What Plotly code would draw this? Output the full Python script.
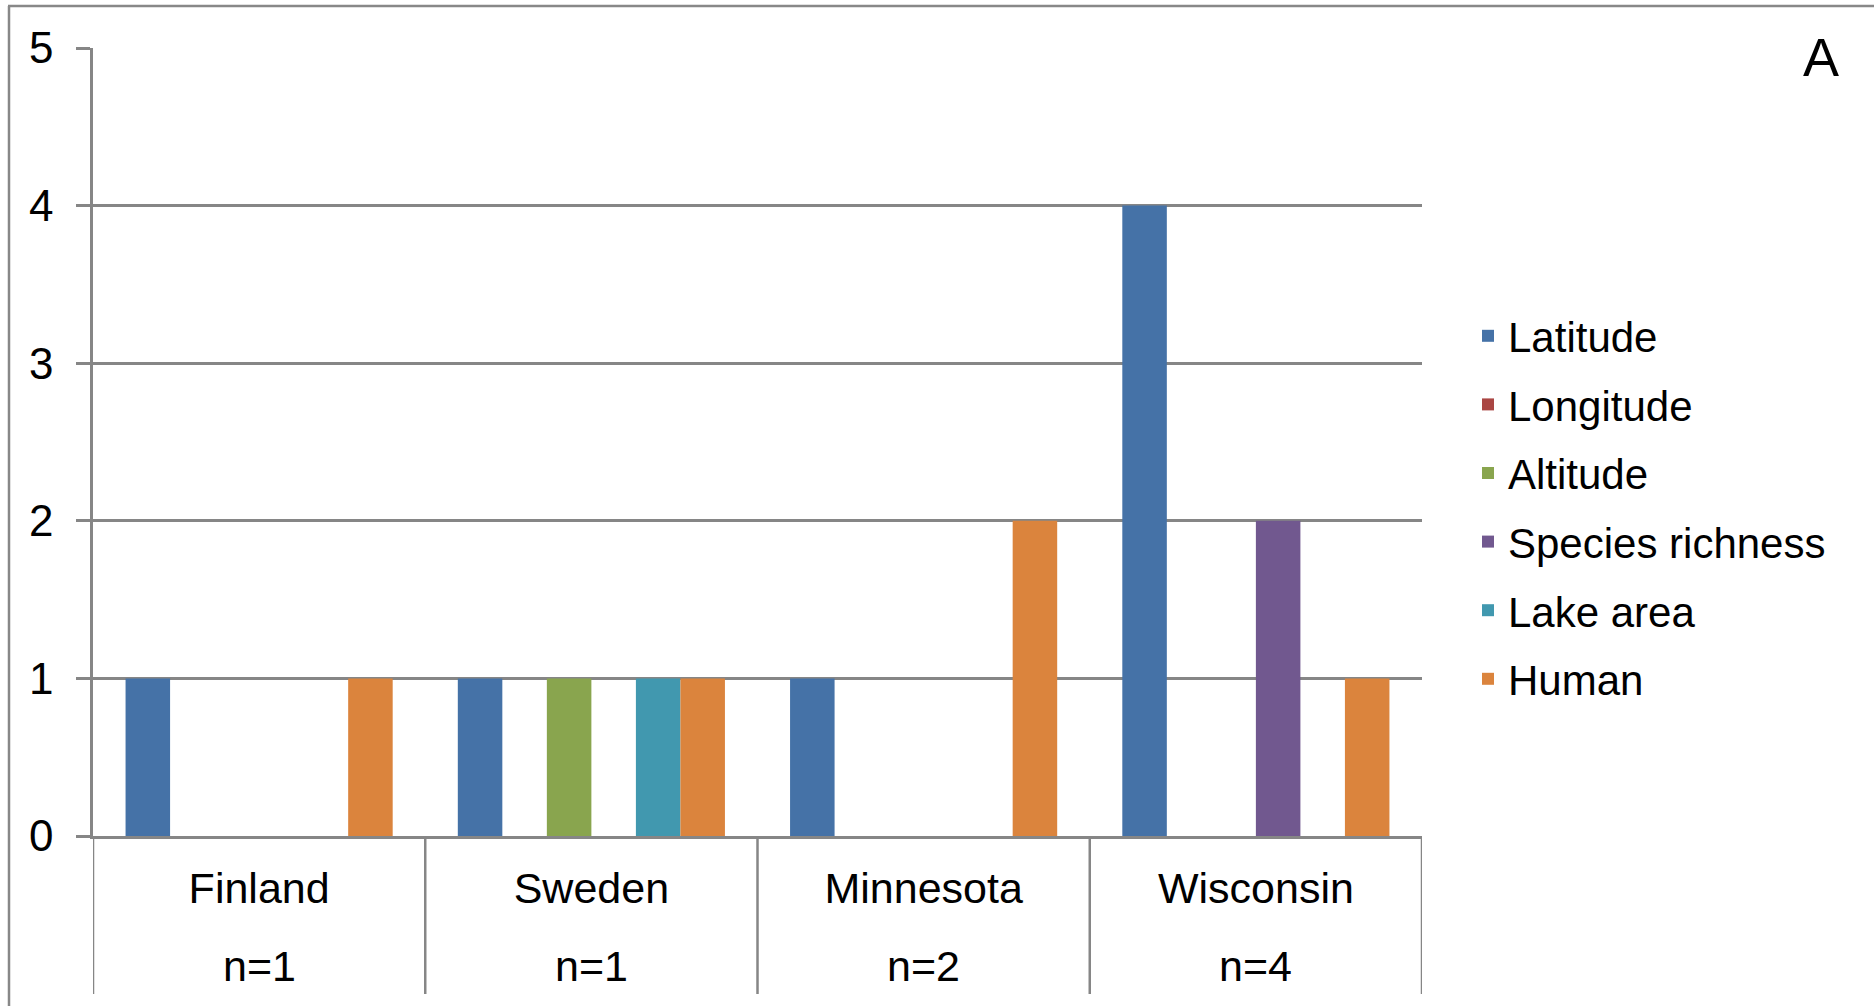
import plotly.graph_objects as go

# ---- data ----
regions = ["Finland", "Sweden", "Minnesota", "Wisconsin"]
sample_sizes = ["n=1", "n=1", "n=2", "n=4"]
factors = ["Latitude", "Longitude", "Altitude", "Species richness", "Lake area", "Human"]
latitude = [1, 1, 1, 4]
longitude = [0, 0, 0, 0]
altitude = [0, 1, 0, 0]
species_richness = [0, 0, 0, 2]
lake_area = [0, 1, 0, 0]
human = [1, 1, 2, 1]
y_ticks = [0, 1, 2, 3, 4, 5]

series = [latitude, longitude, altitude, species_richness, lake_area, human]
colors = ["#4572A7", "#AA4643", "#89A54E", "#71588F", "#4198AF", "#DB843D"]

# ---- geometry (pixels) ----
W, H = 1874, 1006
PL, PR, PT, PB = 93, 1422, 48, 836  # plot area edges
FONT = "Arial, Liberation Sans, sans-serif"
GRID = "#868686"


def px_x(x):
    return (x - PL) / (PR - PL)


def px_y(y):
    return (PB - y) / (PB - PT)


fig = go.Figure()
for i, (name, vals, col) in enumerate(zip(factors, series, colors)):
    fig.add_trace(go.Bar(
        x=list(range(len(regions))), y=vals, name=name,
        marker=dict(color=col, line=dict(width=0)),
        legendgroup=name,
    ))

shapes = []
# category dividers below the axis
for k in range(len(regions) + 1):
    shapes.append(dict(type="line", xref="x", yref="paper",
                       x0=k - 0.5, x1=k - 0.5, y0=0, y1=px_y(994),
                       line=dict(color=GRID, width=2.5)))
# chart frame (left and top edges)
shapes.append(dict(type="line", xref="paper", yref="paper",
                   x0=px_x(9), x1=px_x(9), y0=px_y(6), y1=px_y(H + 5),
                   line=dict(color="#888888", width=2.5)))
shapes.append(dict(type="line", xref="paper", yref="paper",
                   x0=px_x(8), x1=px_x(W + 5), y0=px_y(6), y1=px_y(6),
                   line=dict(color="#888888", width=2.5)))

annotations = []
for k, n in enumerate(sample_sizes):
    annotations.append(dict(x=k, y=px_y(966), xref="x", yref="paper",
                            text=n, showarrow=False, xanchor="center", yanchor="middle",
                            font=dict(size=43, color="#000000", family=FONT)))
annotations.append(dict(x=px_x(1821), y=px_y(57), xref="paper", yref="paper",
                        text="A", showarrow=False, xanchor="center", yanchor="middle",
                        font=dict(size=54, color="#000000", family=FONT)))

fig.update_layout(
    width=W, height=H,
    margin=dict(l=PL, r=W - PR, t=PT, b=H - PB, autoexpand=False),
    paper_bgcolor="#FFFFFF", plot_bgcolor="#FFFFFF",
    barmode="group", bargap=0.196, bargroupgap=0,
    font=dict(family=FONT, size=43, color="#000000"),
    showlegend=True,
    legend=dict(x=px_x(1468), y=px_y(302), xanchor="left", yanchor="top",
                xref="paper", yref="paper",
                font=dict(size=42, family=FONT, color="#000000"),
                bgcolor="rgba(0,0,0,0)", borderwidth=0,
                tracegroupgap=11, traceorder="grouped", itemwidth=30),
    shapes=shapes,
    annotations=annotations,
)

fig.update_xaxes(
    range=[-0.5, len(regions) - 0.5],
    tickmode="array", tickvals=list(range(len(regions))), ticktext=regions,
    ticks="", showgrid=False, showline=True, linecolor=GRID, linewidth=2.5,
    tickfont=dict(size=43, family=FONT, color="#000000"),
    ticklabelstandoff=13, fixedrange=True,
)
fig.update_yaxes(
    range=[0, 5], tickmode="array", tickvals=y_ticks,
    ticks="outside", ticklen=14, tickwidth=2.5, tickcolor=GRID,
    showgrid=True, gridcolor=GRID, gridwidth=2.5,
    showline=True, linecolor=GRID, linewidth=2.5, zeroline=False,
    tickfont=dict(size=44, family=FONT, color="#000000"),
    ticklabelstandoff=14, fixedrange=True,
)

fig.write_html("out.html")
